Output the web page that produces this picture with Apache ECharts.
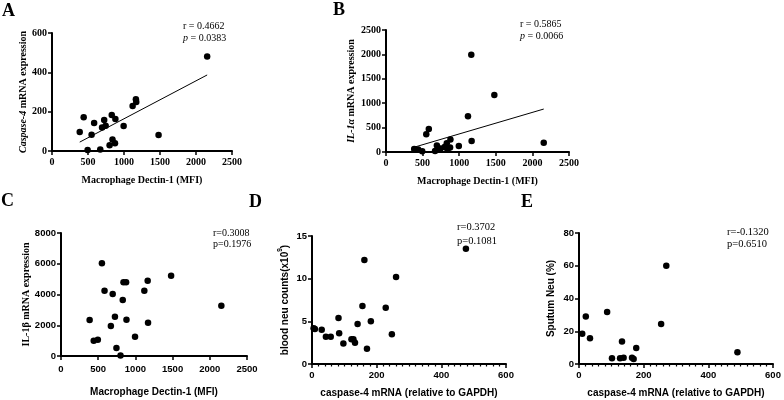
<!DOCTYPE html>
<html>
<head>
<meta charset="utf-8">
<script src="https://cdn.jsdelivr.net/npm/echarts@6/dist/echarts.min.js"></script>
<style>
  html, body { margin: 0; padding: 0; background: #fff; }
  #main { width: 784px; height: 400px; }
</style>
</head>
<body>
<div id="main"></div>
<script>
// Macrophage Dectin-1 (MFI), shared by panels A, B, C
var mfi = [385, 440, 495, 550, 585, 670, 695, 725, 745, 800, 830, 840, 875, 880, 995, 1120, 1165, 1170, 1480, 2155];
var caspase4 = [97, 171, 5, 83, 142, 7, 119, 158, 129, 29, 183, 58, 40, 163, 127, 229, 263, 249, 81, 481];
var il1a = [60, 50, 15, 362, 471, 20, 135, 50, 70, 100, 180, 50, 90, 255, 123, 731, 1994, 225, 1168, 191];
var il1b = [2340, 1000, 1060, 6030, 4250, 1950, 4030, 2560, 520, 40, 3640, 4790, 4790, 2360, 1260, 4250, 4900, 2170, 5220, 3270];

// panel D
var dCaspase = [5, 9, 30, 43, 58, 82, 84, 97, 122, 128, 133, 141, 156, 162, 170, 182, 228, 247, 260, 476];
var dNeu = [4.2, 4.1, 4.0, 3.2, 3.2, 5.4, 3.6, 2.4, 2.9, 2.9, 2.5, 4.7, 6.8, 12.2, 1.8, 5.0, 6.6, 3.5, 10.2, 13.5];

// panel E
var eCaspase = [10, 21, 34, 87, 102, 127, 133, 138, 164, 169, 177, 254, 270, 490];
var eSputum = [18.5, 29, 15.7, 31.8, 3.5, 3.5, 13.8, 3.8, 3.8, 3, 9.8, 24.5, 60, 7.1];

var stats = {
  A: ['r = 0.4662', '0.0383'],
  B: ['r = 0.5865', '0.0066'],
  C: ['r=0.3008', 'p=0.1976'],
  D: ['r=0.3702', 'p=0.1081'],
  E: ['r=-0.1320', 'p=0.6510']
};

var SERIF = '"Liberation Serif", "Times New Roman", serif';
var SANS = '"Liberation Sans", Arial, sans-serif';

function zip(xs, ys) {
  return xs.map(function (x, i) { return [x, ys[i]]; });
}

// least squares fit, returned as two end points over the x range
function fitLine(xs, ys) {
  var n = xs.length, mx = 0, my = 0;
  for (var i = 0; i < n; i++) { mx += xs[i]; my += ys[i]; }
  mx /= n; my /= n;
  var sxy = 0, sxx = 0;
  for (var j = 0; j < n; j++) {
    sxy += (xs[j] - mx) * (ys[j] - my);
    sxx += (xs[j] - mx) * (xs[j] - mx);
  }
  var b = sxy / sxx, a = my - b * mx;
  var x0 = Math.min.apply(null, xs), x1 = Math.max.apply(null, xs);
  return [[x0, a + b * x0], [x1, a + b * x1]];
}

function plain(v) { return String(v); }

function label(font, size, margin) {
  return { fontFamily: font, fontWeight: 'bold', fontSize: size, color: '#000', margin: margin, formatter: plain };
}

function xAxis(idx, max, interval, name, font, opts) {
  var ax = {
    type: 'value', gridIndex: idx, min: 0, max: max, interval: interval,
    name: name, nameLocation: 'middle', nameGap: 24,
    nameTextStyle: { fontFamily: font, fontWeight: 'bold', fontSize: 10, color: '#000' },
    axisLine: { show: true, lineStyle: { color: '#000', width: 2 } },
    axisTick: { show: true, length: 4, lineStyle: { color: '#000', width: 1.5 } },
    axisLabel: label(font, font === SERIF ? 10 : 9.5, 6),
    splitLine: { show: false }
  };
  return Object.assign(ax, opts || {});
}

function yAxis(idx, max, interval, name, font, labelFont, gap, rich) {
  return {
    type: 'value', gridIndex: idx, min: 0, max: max, interval: interval,
    name: name, nameLocation: 'middle', nameGap: gap,
    nameTextStyle: { fontFamily: font, fontWeight: 'bold', fontSize: 10, color: '#000', rich: rich || {} },
    axisLine: { show: true, lineStyle: { color: '#000', width: 2 } },
    axisTick: { show: true, length: 4, lineStyle: { color: '#000', width: 1.5 } },
    axisLabel: label(labelFont, labelFont === SERIF ? 10 : 9.5, 5),
    splitLine: { show: false }
  };
}

var minorX = {
  minorTick: { show: true, splitNumber: 10, length: 2.5, lineStyle: { color: '#000', width: 1.2 } }
};

function dots(idx, data) {
  return {
    type: 'scatter', xAxisIndex: idx, yAxisIndex: idx, data: data,
    symbol: 'circle', symbolSize: 6.5, itemStyle: { color: '#000', opacity: 1 }, silent: true
  };
}

function fit(idx, xs, ys) {
  return {
    type: 'line', xAxisIndex: idx, yAxisIndex: idx, data: fitLine(xs, ys),
    symbol: 'none', lineStyle: { color: '#000', width: 1 }, silent: true, z: 1
  };
}

function txt(x, y, text, font, size, weight) {
  return {
    type: 'text', left: x, top: y, silent: true,
    style: { text: text, fontFamily: font, fontSize: size, fontWeight: weight || 'normal', fill: '#000' }
  };
}

function pLine(x, y, val) {
  return {
    type: 'text', left: x, top: y, silent: true,
    style: {
      text: '{i|p} = ' + val, fontFamily: SERIF, fontSize: 10, fill: '#000',
      rich: { i: { fontFamily: SERIF, fontSize: 10, fontStyle: 'italic', fill: '#000' } }
    }
  };
}

var italicRich = { i: { fontFamily: SERIF, fontWeight: 'bold', fontStyle: 'italic', fontSize: 10, color: '#000' } };
var supRich = {
  b: { fontFamily: SANS, fontWeight: 'bold', fontSize: 10, color: '#000', lineHeight: 13, verticalAlign: 'bottom' },
  s: { fontFamily: SANS, fontWeight: 'bold', fontSize: 6.5, color: '#000', lineHeight: 13, verticalAlign: 'top' }
};

var chart = echarts.init(document.getElementById('main'), null, { renderer: 'canvas' });

var option = {
  backgroundColor: '#fff',
  animation: false,
  grid: [
    { left: 52, top: 33, width: 180, height: 118, outerBoundsMode: 'none' },
    { left: 386, top: 30, width: 183, height: 122, outerBoundsMode: 'none' },
    { left: 61, top: 233, width: 186, height: 123, outerBoundsMode: 'none' },
    { left: 312, top: 236, width: 194, height: 128, outerBoundsMode: 'none' },
    { left: 579, top: 233, width: 194, height: 131, outerBoundsMode: 'none' }
  ],
  xAxis: [
    xAxis(0, 2500, 500, 'Macrophage Dectin-1 (MFI)', SERIF),
    xAxis(1, 2500, 500, 'Macrophage Dectin-1 (MFI)', SERIF),
    xAxis(2, 2500, 500, 'Macrophage Dectin-1 (MFI)', SANS, { nameGap: 31, axisLabel: label(SANS, 9.5, 8) }),
    xAxis(3, 600, 200, 'caspase-4 mRNA (relative to GAPDH)', SANS, minorX),
    xAxis(4, 600, 200, 'caspase-4 mRNA (relative to GAPDH)', SANS, minorX)
  ],
  yAxis: [
    yAxis(0, 600, 200, '{i|Caspase-4} mRNA expression', SERIF, SERIF, 22, italicRich),
    yAxis(1, 2500, 500, '{i|IL-1α} mRNA expression', SERIF, SERIF, 30, italicRich),
    yAxis(2, 8000, 2000, 'IL-1β mRNA expression', SERIF, SANS, 30),
    yAxis(3, 15, 5, '{b|blood neu counts(x10}{s|9}{b|)}', SANS, SANS, 22, supRich),
    yAxis(4, 80, 20, 'Sputum Neu (%)', SANS, SANS, 23)
  ],
  series: [
    dots(0, zip(mfi, caspase4)),
    fit(0, mfi, caspase4),
    dots(1, zip(mfi, il1a)),
    fit(1, mfi, il1a),
    dots(2, zip(mfi, il1b)),
    dots(3, zip(dCaspase, dNeu)),
    dots(4, zip(eCaspase, eSputum))
  ],
  graphic: [
    txt(2, 2, 'A', SERIF, 18, 'bold'),
    txt(333, 1, 'B', SERIF, 18, 'bold'),
    txt(1, 192, 'C', SERIF, 18, 'bold'),
    txt(249, 193, 'D', SERIF, 18, 'bold'),
    txt(521, 193, 'E', SERIF, 18, 'bold'),
    txt(183, 21, stats.A[0], SERIF, 10),
    pLine(183, 33, stats.A[1]),
    txt(520, 19, stats.B[0], SERIF, 10),
    pLine(520, 31, stats.B[1]),
    txt(213, 228, stats.C[0], SERIF, 10),
    txt(213, 239, stats.C[1], SERIF, 10),
    txt(457, 222, stats.D[0], SERIF, 10.5),
    txt(457, 236, stats.D[1], SERIF, 10.5),
    txt(727, 227, stats.E[0], SERIF, 10.5),
    txt(727, 239, stats.E[1], SERIF, 10.5)
  ]
};

chart.setOption(option);
</script>
</body>
</html>
